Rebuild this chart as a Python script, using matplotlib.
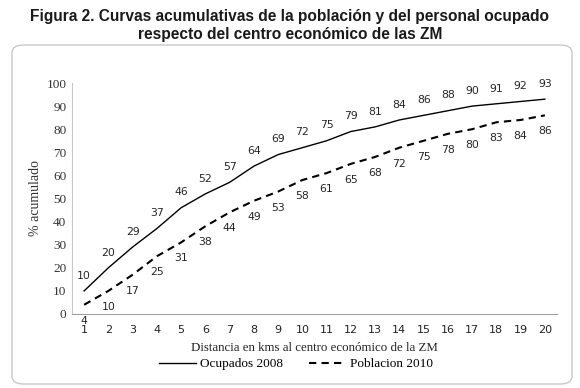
import matplotlib.pyplot as plt
from matplotlib.patches import FancyBboxPatch

distancia = list(range(1, 21))
ocupados_2008 = [10, 20, 29, 37, 46, 52, 57, 64, 69, 72, 75, 79, 81, 84, 86, 88, 90, 91, 92, 93]
poblacion_2010 = [4, 10, 17, 25, 31, 38, 44, 49, 53, 58, 61, 65, 68, 72, 75, 78, 80, 83, 84, 86]
y_ticks = list(range(0, 101, 10))

serif = "Liberation Serif"
sans = "DejaVu Sans"

fig = plt.figure(figsize=(5.8, 3.88), dpi=100)

# marco redondeado
box = FancyBboxPatch((12 / 580, 4 / 388), 560 / 580, 339 / 388,
                     boxstyle="round,pad=0,rounding_size=0.02",
                     transform=fig.transFigure, facecolor="none",
                     edgecolor="#c8c8c8", linewidth=1.0)
fig.patches.append(box)

fig.text(0.5, 1 - 17 / 388, "Figura 2. Curvas acumulativas de la población y del personal ocupado",
         ha="center", va="center", fontsize=11.2, fontweight="bold",
         family="Liberation Sans", color="#1a1a1a")
fig.text(0.5, 1 - 34 / 388, "respecto del centro económico de las ZM",
         ha="center", va="center", fontsize=11.2, fontweight="bold",
         family="Liberation Sans", color="#1a1a1a")

ax = fig.add_axes([72 / 580, 1 - 314 / 388, 485 / 580, 231 / 388])

ax.plot(distancia, ocupados_2008, color="black", lw=1.0, label="Ocupados 2008")
ax.plot(distancia, poblacion_2010, color="black", lw=1.5, ls=(0, (3.5, 2.5)),
        label="Poblacion 2010")

for x, y in zip(distancia, ocupados_2008):
    ax.annotate(str(y), (x, y), xytext=(0, 11), textcoords="offset points",
                ha="center", va="center", fontsize=7.8, family=sans, color="#262626")
for x, y in zip(distancia, poblacion_2010):
    ax.annotate(str(y), (x, y), xytext=(0, -11.5), textcoords="offset points",
                ha="center", va="center", fontsize=7.8, family=sans, color="#262626",
                annotation_clip=False)

ax.set_xlim(0.5, 20.5)
ax.set_ylim(0, 100)
ax.set_xticks(distancia)
ax.set_xticklabels([str(d) for d in distancia], family=sans, fontsize=8, color="#222222")
ax.set_yticks(y_ticks)
ax.set_yticklabels([str(t) for t in y_ticks], family=serif, fontsize=9.5, color="#333333")
ax.tick_params(length=0, pad=4)
ax.tick_params(axis="x", pad=8)

for side in ["top", "right"]:
    ax.spines[side].set_visible(False)
ax.spines["left"].set_color("#c8c8c8")
ax.spines["bottom"].set_color("#a0a0a0")

ax.set_ylabel("% acumulado", family=serif, fontsize=10, color="#333333", labelpad=3)
ax.set_xlabel("Distancia en kms al centro económico de la ZM", family=serif,
              fontsize=9.3, color="#222222", labelpad=5)

fig.legend(loc="center", bbox_to_anchor=(0.51, 1 - 364 / 388), ncol=2, frameon=False,
           prop={"family": serif, "size": 9.5}, handlelength=2.8, columnspacing=2.0,
           handletextpad=0.3)

fig.savefig("out.png", dpi=100)
